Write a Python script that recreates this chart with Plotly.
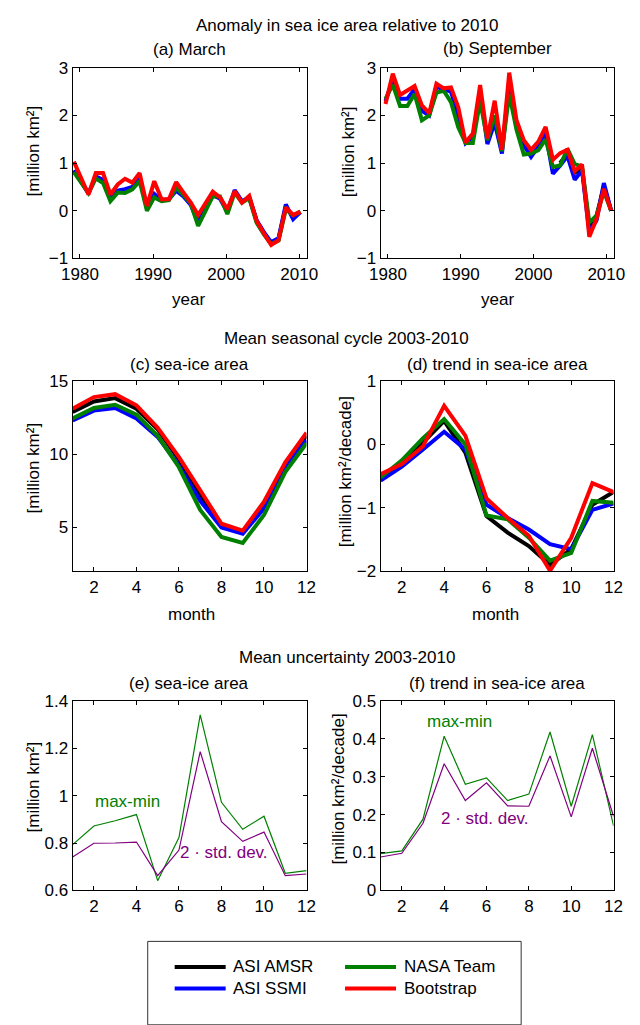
import plotly.graph_objects as go

W, H = 640, 1025
FONT = "Liberation Sans, Arial, Helvetica, sans-serif"
FS = 17

# ---------------- data ----------------
years = list(range(1979, 2011))
amsr_years = list(range(2003, 2011))
months = list(range(1, 13))

# (a) March anomaly [million km^2]
mar_ssmi = [0.85, 0.62, 0.36, 0.72, 0.65, 0.25, 0.42, 0.45, 0.50, 0.70, 0.05, 0.35, 0.22, 0.24, 0.42, 0.30,
            0.12, -0.25, 0.05, 0.33, 0.25, -0.03, 0.43, 0.20, 0.28, -0.20, -0.45, -0.66, -0.58, 0.13, -0.18, -0.03]
mar_nasa = [0.81, 0.60, 0.37, 0.68, 0.58, 0.20, 0.38, 0.37, 0.45, 0.62, 0.00, 0.28, 0.20, 0.22, 0.48, 0.33,
            0.15, -0.32, 0.00, 0.30, 0.30, -0.07, 0.38, 0.17, 0.26, -0.25, -0.50, -0.70, -0.63, 0.03, -0.10, -0.02]
mar_boot = [1.03, 0.70, 0.34, 0.79, 0.79, 0.34, 0.55, 0.67, 0.59, 0.79, 0.10, 0.62, 0.24, 0.24, 0.60, 0.38,
            0.17, -0.09, 0.17, 0.40, 0.28, 0.03, 0.41, 0.17, 0.31, -0.21, -0.48, -0.72, -0.62, 0.07, -0.09, -0.02]
mar_amsr = [0.28, -0.22, -0.47, -0.70, -0.60, 0.08, -0.12, -0.03]

# (b) September anomaly [million km^2]
sep_ssmi = [2.30, 2.75, 2.35, 2.35, 2.55, 2.10, 2.00, 2.60, 2.55, 2.50, 2.00, 1.42, 1.55, 2.50, 1.40, 1.85,
            1.20, 2.70, 1.75, 1.38, 1.13, 1.35, 1.62, 0.78, 0.95, 1.15, 0.65, 0.85, -0.45, -0.20, 0.58, 0.00]
sep_nasa = [2.35, 2.65, 2.20, 2.20, 2.45, 1.90, 2.00, 2.48, 2.52, 2.28, 1.75, 1.42, 1.42, 2.30, 1.48, 2.00,
            1.25, 2.45, 1.70, 1.18, 1.20, 1.27, 1.50, 0.92, 0.95, 1.30, 0.98, 0.93, -0.25, -0.10, 0.40, 0.00]
sep_boot = [2.24, 2.88, 2.43, 2.52, 2.62, 2.21, 2.05, 2.67, 2.57, 2.59, 2.17, 1.43, 1.62, 2.64, 1.52, 2.31,
            1.28, 2.90, 1.90, 1.48, 1.28, 1.45, 1.76, 1.07, 1.21, 1.28, 0.83, 0.97, -0.55, -0.17, 0.46, 0.00]
sep_amsr = [1.00, 1.20, 0.80, 0.90, -0.35, -0.10, 0.50, 0.00]

# (c) mean seasonal cycle of sea-ice area [million km^2]
cyc_amsr = [12.89, 13.60, 13.83, 13.10, 11.70, 9.67, 7.20, 5.11, 4.67, 6.53, 9.34, 11.25]
cyc_ssmi = [12.30, 12.98, 13.16, 12.44, 11.18, 9.22, 6.82, 5.00, 4.57, 6.30, 9.10, 10.96]
cyc_nasa = [12.44, 13.16, 13.38, 12.70, 11.25, 9.11, 6.19, 4.35, 3.94, 5.85, 8.78, 10.75]
cyc_boot = [13.11, 13.90, 14.10, 13.34, 11.80, 9.80, 7.54, 5.25, 4.78, 6.75, 9.45, 11.47]

# (d) trend in sea-ice area [million km^2/decade]
trd_amsr = [-0.52, -0.28, 0.03, 0.37, -0.13, -1.13, -1.39, -1.60, -1.90, -1.65, -0.95, -0.75]
trd_ssmi = [-0.57, -0.35, -0.08, 0.20, -0.08, -0.95, -1.16, -1.34, -1.57, -1.65, -1.03, -0.93]
trd_nasa = [-0.52, -0.25, 0.10, 0.40, 0.00, -1.12, -1.18, -1.47, -1.83, -1.71, -0.89, -0.92]
trd_boot = [-0.47, -0.31, -0.03, 0.61, 0.14, -0.85, -1.16, -1.44, -1.99, -1.47, -0.61, -0.75]

# (e) uncertainty of sea-ice area
unc_area_maxmin = [0.793, 0.872, 0.894, 0.920, 0.641, 0.823, 1.341, 0.972, 0.858, 0.913, 0.672, 0.683]
unc_area_2std = [0.741, 0.799, 0.800, 0.804, 0.662, 0.770, 1.186, 0.890, 0.807, 0.846, 0.662, 0.669]

# (f) uncertainty of trend
unc_trd_maxmin = [0.097, 0.104, 0.188, 0.407, 0.280, 0.297, 0.237, 0.254, 0.418, 0.222, 0.411, 0.170]
unc_trd_2std = [0.088, 0.098, 0.177, 0.334, 0.237, 0.284, 0.223, 0.222, 0.355, 0.194, 0.375, 0.195]

products = ["ASI AMSR", "ASI SSMI", "NASA Team", "Bootstrap"]
colors = {"ASI AMSR": "#000000", "ASI SSMI": "#0000ff", "NASA Team": "#008000", "Bootstrap": "#ff0000"}
GREEN2 = "#008000"
PURPLE = "#800080"

# ---------------- helpers ----------------
def px(x):
    return x / W

def py(y):
    return 1 - y / H

boxes = {
    1: (63, 306, 60, 254),
    2: (383, 625, 60, 254),
    3: (63, 306, 379, 573),
    4: (383, 625, 379, 573),
    5: (63, 306, 705, 898),
    6: (383, 625, 705, 898),
}

fig = go.Figure()

def add_line(k, x, y, color, width, name):
    sfx = "" if k == 1 else str(k)
    fig.add_trace(go.Scatter(x=x, y=y, mode="lines", name=name, showlegend=False,
                             line=dict(color=color, width=width),
                             xaxis="x" + sfx, yaxis="y" + sfx, hoverinfo="skip"))

mar_off = (3 - 1) / 12
sep_off = (9 - 1) / 12
mx = [y + mar_off for y in years]
sx = [y + sep_off for y in years]
mxa = [y + mar_off for y in amsr_years]
sxa = [y + sep_off for y in amsr_years]

LW = 4
add_line(1, mxa, mar_amsr, colors["ASI AMSR"], LW, "ASI AMSR")
add_line(1, mx, mar_ssmi, colors["ASI SSMI"], LW, "ASI SSMI")
add_line(1, mx, mar_nasa, colors["NASA Team"], LW, "NASA Team")
add_line(1, mx, mar_boot, colors["Bootstrap"], LW, "Bootstrap")

add_line(2, sxa, sep_amsr, colors["ASI AMSR"], LW, "ASI AMSR")
add_line(2, sx, sep_ssmi, colors["ASI SSMI"], LW, "ASI SSMI")
add_line(2, sx, sep_nasa, colors["NASA Team"], LW, "NASA Team")
add_line(2, sx, sep_boot, colors["Bootstrap"], LW, "Bootstrap")

for name, arr in zip(products, [cyc_amsr, cyc_ssmi, cyc_nasa, cyc_boot]):
    add_line(3, months, arr, colors[name], LW, name)
for name, arr in zip(products, [trd_amsr, trd_ssmi, trd_nasa, trd_boot]):
    add_line(4, months, arr, colors[name], LW, name)

add_line(5, months, unc_area_maxmin, GREEN2, 1.2, "max-min")
add_line(5, months, unc_area_2std, PURPLE, 1.2, "2 std")
add_line(6, months, unc_trd_maxmin, GREEN2, 1.2, "max-min")
add_line(6, months, unc_trd_2std, PURPLE, 1.2, "2 std")

axis_cfg = {
    1: dict(xr=[1979, 2011], xt=[1980, 1990, 2000, 2010], yr=[-1, 3], yt=[-1, 0, 1, 2, 3]),
    2: dict(xr=[1979, 2011], xt=[1980, 1990, 2000, 2010], yr=[-1, 3], yt=[-1, 0, 1, 2, 3]),
    3: dict(xr=[1, 12], xt=[2, 4, 6, 8, 10, 12], yr=[2, 15], yt=[5, 10, 15]),
    4: dict(xr=[1, 12], xt=[2, 4, 6, 8, 10, 12], yr=[-2, 1], yt=[-2, -1, 0, 1]),
    5: dict(xr=[1, 12], xt=[2, 4, 6, 8, 10, 12], yr=[0.6, 1.4], yt=[0.6, 0.8, 1.0, 1.2, 1.4]),
    6: dict(xr=[1, 12], xt=[2, 4, 6, 8, 10, 12], yr=[0, 0.5], yt=[0, 0.1, 0.2, 0.3, 0.4, 0.5]),
}

layout = dict(
    width=W, height=H, margin=dict(l=0, r=0, t=0, b=0),
    paper_bgcolor="white", plot_bgcolor="white",
    font=dict(family=FONT, size=FS, color="black"),
    showlegend=False,
)

common = dict(showline=True, linecolor="black", linewidth=1, mirror="ticks",
              ticks="inside", ticklen=4, tickwidth=1, tickcolor="black",
              showgrid=False, zeroline=False, fixedrange=True,
              tickfont=dict(family=FONT, size=FS, color="black"))

for k, (x0, x1, y0, y1) in boxes.items():
    sfx = "" if k == 1 else str(k)
    c = axis_cfg[k]
    layout["xaxis" + sfx] = dict(domain=[px(x0), px(x1)], range=c["xr"], tickmode="array",
                                 tickvals=c["xt"], anchor="y" + sfx, **common)
    layout["yaxis" + sfx] = dict(domain=[py(y1), py(y0)], range=c["yr"], tickmode="array",
                                 tickvals=c["yt"], anchor="x" + sfx, **common)

fig.update_layout(**layout)

ann = []
def text(x, y, s, size=FS, color="black", angle=0, xanchor="center"):
    ann.append(dict(x=px(x), y=py(y), xref="paper", yref="paper", text=s, showarrow=False,
                    xanchor=xanchor, yanchor="middle", textangle=angle,
                    font=dict(family=FONT, size=size, color=color)))

# section titles
text(348, 17, "Anomaly in sea ice area relative to 2010")
text(348, 336, "Mean seasonal cycle 2003-2010")
text(348, 661, "Mean uncertainty 2003-2010")
# panel titles
text(184, 41, "(a) March")
text(504, 40, "(b) September")
text(184, 362, "(c) sea-ice area")
text(504, 362, "(d) trend in sea-ice area")
text(184, 687, "(e) sea-ice area")
text(504, 687, "(f) trend in sea-ice area")
# axis titles
text(183, 296, "year")
text(504, 296, "year")
text(187, 617, "month")
text(502, 617, "month")
text(22, 145, "[million km²]", angle=-90)
text(349, 145, "[million km²]", angle=-90)
text(22, 468, "[million km²]", angle=-90)
text(346, 472, "[million km²/decade]", angle=-90)
text(22, 793, "[million km²]", angle=-90)
text(339, 795, "[million km²/decade]", angle=-90)

# curve labels in (e) and (f), data coordinates
ann.append(dict(x=3.58, y=0.977, xref="x5", yref="y5", text="max-min", showarrow=False,
                font=dict(family=FONT, size=FS, color=GREEN2)))
ann.append(dict(x=8.11, y=0.758, xref="x5", yref="y5", text="2 · std. dev.", showarrow=False,
                font=dict(family=FONT, size=FS, color=PURPLE)))
ann.append(dict(x=4.73, y=0.446, xref="x6", yref="y6", text="max-min", showarrow=False,
                font=dict(family=FONT, size=FS, color=GREEN2)))
ann.append(dict(x=5.95, y=0.189, xref="x6", yref="y6", text="2 · std. dev.", showarrow=False,
                font=dict(family=FONT, size=FS, color=PURPLE)))

# legend (manual)
shapes = [dict(type="rect", xref="paper", yref="paper", x0=px(141), x1=px(529), y0=py(1035), y1=py(950),
               line=dict(color="#333333", width=1), fillcolor="rgba(0,0,0,0)")]
leg = [("ASI AMSR", 169, 976), ("ASI SSMI", 169, 998), ("NASA Team", 346, 976), ("Bootstrap", 346, 998)]
for name, lx, ly in leg:
    shapes.append(dict(type="line", xref="paper", yref="paper", x0=px(lx), x1=px(lx + 53),
                       y0=py(ly), y1=py(ly), line=dict(color=colors[name], width=4)))
    text(lx + 59, ly, name, xanchor="left")

fig.update_layout(annotations=ann, shapes=shapes)
fig.write_html("out.html", config={"displayModeBar": False},
               post_script="document.body.style.margin='0px';document.body.style.overflow='hidden';")
